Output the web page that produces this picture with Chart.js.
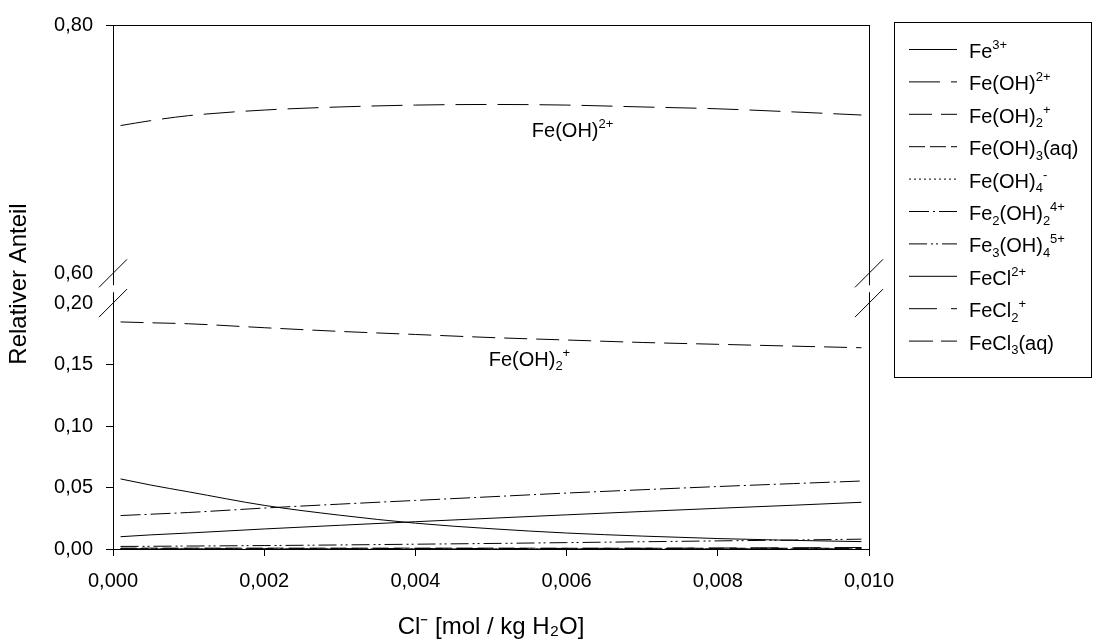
<!DOCTYPE html>
<html>
<head>
<meta charset="utf-8">
<script src="https://cdn.jsdelivr.net/npm/chart.js@4.4.1/dist/chart.umd.min.js"></script>
<style>
  html, body { margin: 0; padding: 0; background: #fff; }
  #wrap { width: 1096px; height: 644px; position: relative; }
</style>
</head>
<body>
<div id="wrap"><canvas id="speciation"></canvas></div>
<script>
// Cl- concentration (mol/kg H2O)
const chloride = [0.0001, 0.0005, 0.001, 0.002, 0.003, 0.004, 0.005, 0.006, 0.007, 0.008, 0.009, 0.0099];

// relative share of each species
const fe3      = [0.0570, 0.0520, 0.0465, 0.0355, 0.0275, 0.0210, 0.0165, 0.0130, 0.0105, 0.0085, 0.0070, 0.0060];
const feOH     = [0.7190, 0.7230, 0.7270, 0.7315, 0.7340, 0.7355, 0.7360, 0.7355, 0.7340, 0.7325, 0.7300, 0.7275];
const feOH2    = [0.1847, 0.1840, 0.1832, 0.1800, 0.1770, 0.1745, 0.1720, 0.1700, 0.1680, 0.1665, 0.1650, 0.1637];
const feOH3    = [0.0007, 0.0007, 0.0007, 0.0007, 0.0007, 0.0007, 0.0007, 0.0006, 0.0006, 0.0006, 0.0006, 0.0006];
const feOH4    = [0.0001, 0.0001, 0.0001, 0.0001, 0.0001, 0.0001, 0.0001, 0.0001, 0.0001, 0.0001, 0.0001, 0.0001];
const fe2OH2   = [0.0272, 0.0283, 0.0297, 0.0333, 0.0365, 0.0395, 0.0425, 0.0455, 0.0482, 0.0508, 0.0532, 0.0553];
const fe3OH4   = [0.0021, 0.0022, 0.0024, 0.0028, 0.0033, 0.0039, 0.0045, 0.0052, 0.0059, 0.0066, 0.0073, 0.0080];
const feCl     = [0.0100, 0.0115, 0.0130, 0.0163, 0.0193, 0.0222, 0.0250, 0.0278, 0.0305, 0.0331, 0.0356, 0.0380];
const feCl2    = [0.0000, 0.0000, 0.0001, 0.0001, 0.0002, 0.0003, 0.0004, 0.0005, 0.0006, 0.0008, 0.0010, 0.0012];
const feCl3    = [0.0000, 0.0000, 0.0000, 0.0000, 0.0000, 0.0000, 0.0000, 0.0000, 0.0000, 0.0000, 0.0001, 0.0001];

const species = ['Fe^{3+}', 'Fe(OH)^{2+}', 'Fe(OH)_{2}^{+}', 'Fe(OH)_{3}(aq)', 'Fe(OH)_{4}^{-}',
                 'Fe_{2}(OH)_{2}^{4+}', 'Fe_{3}(OH)_{4}^{5+}', 'FeCl^{2+}', 'FeCl_{2}^{+}', 'FeCl_{3}(aq)'];
const shares = [fe3, feOH, feOH2, feOH3, feOH4, fe2OH2, fe3OH4, feCl, feCl2, feCl3];
const dashes = [[], [31, 11], [23, 9], [16, 5], [2, 3], [20, 4, 2, 4], [18, 4, 2, 3, 2, 4], [], [28, 14], [24, 8]];

const xTicks = [0, 0.002, 0.004, 0.006, 0.008, 0.010];
const yTicksLow = [0, 0.05, 0.10, 0.15, 0.20];
const yTicksHigh = [0.60, 0.80];

const FONT = "'Liberation Sans', Arial, sans-serif";
Chart.defaults.font.family = FONT;
Chart.defaults.color = '#000';

const SUP = {'0':'⁰','1':'¹','2':'²','3':'³','4':'⁴','5':'⁵','+':'⁺','-':'⁻'};
const SUB = {'0':'₀','1':'₁','2':'₂','3':'₃','4':'₄','5':'₅'};
function plain(s) {
  return s.replace(/\^\{([^}]*)\}/g, (m, t) => [...t].map(c => SUP[c] || c).join(''))
          .replace(/_\{([^}]*)\}/g, (m, t) => [...t].map(c => SUB[c] || c).join(''));
}
function parseRich(s) {
  const parts = [];
  const re = /([_^])\{([^}]*)\}|([^_^]+)/g;
  let m;
  while ((m = re.exec(s))) {
    if (m[3]) parts.push({t: m[3], k: 0});
    else parts.push({t: m[2], k: m[1] === '^' ? 1 : -1});
  }
  return parts;
}
// draws text with real sub/superscripts, y is the baseline
function drawRich(ctx, s, x, y, size) {
  const small = Math.round(size * 0.65);
  ctx.textBaseline = 'alphabetic';
  ctx.textAlign = 'left';
  for (const p of parseRich(s)) {
    ctx.font = (p.k ? small : size) + 'px ' + FONT;
    const dy = p.k === 1 ? -size * 0.45 : p.k === -1 ? size * 0.23 : 0;
    ctx.fillText(p.t, x, y + dy);
    x += ctx.measureText(p.t).width;
  }
}

const breakPlugin = {
  id: 'breakFrame',
  afterDraw(chart) {
    const {ctx, chartArea: a, scales} = chart;
    const lo = scales.yLow, hi = scales.yHigh;
    const seam = hi.bottom;
    ctx.save();
    ctx.strokeStyle = '#000';
    ctx.fillStyle = '#000';
    ctx.lineWidth = 1;
    ctx.beginPath();
    ctx.moveTo(a.left, a.top + 0.5); ctx.lineTo(a.right, a.top + 0.5);
    ctx.moveTo(a.right + 0.5, a.top); ctx.lineTo(a.right + 0.5, a.bottom);
    ctx.stroke();
    // gap in both axes plus the // marks
    ctx.fillStyle = '#fff';
    [a.left, a.right].forEach(x => ctx.fillRect(x - 2, seam - 3.5, 5, 7));
    ctx.beginPath();
    [a.left, a.right].forEach(x => {
      [hi.getPixelForValue(0.6), lo.getPixelForValue(0.2)].forEach(y => {
        ctx.moveTo(x - 14, y + 14); ctx.lineTo(x + 14, y - 14);
      });
    });
    ctx.stroke();

    // curve labels
    ctx.fillStyle = '#000';
    drawRich(ctx, species[1], scales.x.getPixelForValue(0.00554), hi.getPixelForValue(0.710), 20);
    drawRich(ctx, species[2], scales.x.getPixelForValue(0.00497), lo.getPixelForValue(0.1492), 20);

    // y title
    ctx.save();
    ctx.translate(19, (a.top + a.bottom) / 2 - 3);
    ctx.rotate(-Math.PI / 2);
    ctx.font = '24px ' + FONT;
    ctx.textAlign = 'center';
    ctx.textBaseline = 'middle';
    ctx.fillText('Relativer Anteil', 0, 0);
    ctx.restore();

    // legend
    const box = {left: 894, top: 22, right: 1091, bottom: 377};
    ctx.strokeRect(box.left + 0.5, box.top + 0.5, box.right - box.left, box.bottom - box.top);
    species.forEach((name, i) => {
      const base = 58 + 32.4 * i;
      ctx.beginPath();
      ctx.setLineDash(dashes[i]);
      ctx.moveTo(909, base - 8.5); ctx.lineTo(957, base - 8.5);
      ctx.stroke();
      ctx.setLineDash([]);
      drawRich(ctx, name, 969, base, 20);
    });
    ctx.restore();
  }
};

const yCommon = {
  type: 'linear',
  position: 'left',
  stack: 'y',
  afterFit: s => { s.width = 113; },
  border: { display: true, color: '#000', width: 1 },
  grid: {
    drawOnChartArea: false, drawTicks: true, tickLength: 7, tickWidth: 1,
    tickColor: c => (c.tick && (c.tick.value === 0.6 || c.tick.value === 0.2)) ? 'rgba(0,0,0,0)' : '#000'
  },
  ticks: { color: '#000', padding: 13, font: { size: 20 }, callback: v => v.toFixed(2).replace('.', ',') }
};

new Chart(document.getElementById('speciation'), {
  type: 'line',
  data: {
    datasets: species.map((name, i) => ({
      label: plain(name),
      data: chloride.map((c, j) => ({x: c, y: shares[i][j]})),
      yAxisID: i === 1 ? 'yHigh' : 'yLow',
      borderColor: '#000',
      borderWidth: 1,
      borderDash: dashes[i],
      pointRadius: 0,
      fill: false,
      cubicInterpolationMode: 'monotone'
    }))
  },
  options: {
    responsive: true,
    maintainAspectRatio: false,
    animation: false,
    layout: { padding: { left: 0, top: 20.5, right: 227, bottom: 0 } },
    plugins: { legend: { display: false }, tooltip: { enabled: false } },
    scales: {
      x: {
        type: 'linear',
        min: 0,
        max: 0.010,
        afterBuildTicks: s => { s.ticks = xTicks.map(v => ({value: v})); },
        afterFit: s => { s.height = 95; },
        border: { display: true, color: '#000', width: 1 },
        grid: { drawOnChartArea: false, drawTicks: true, tickLength: 7, tickColor: '#000', tickWidth: 1 },
        ticks: { color: '#000', padding: 13, font: { size: 20 }, maxRotation: 0, autoSkip: false,
                 callback: v => v.toFixed(3).replace('.', ',') },
        title: { display: true, text: 'Cl⁻ [mol / kg H₂O]', color: '#000', font: { size: 24 }, padding: { top: 0, bottom: 2 } }
      },
      yLow: Object.assign({}, yCommon, {
        min: 0, max: 0.2117, stackWeight: 262.5,
        afterBuildTicks: s => { s.ticks = yTicksLow.map(v => ({value: v})); }
      }),
      yHigh: Object.assign({}, yCommon, {
        min: 0.5876, max: 0.80, stackWeight: 266,
        afterBuildTicks: s => { s.ticks = yTicksHigh.map(v => ({value: v})); }
      })
    }
  },
  plugins: [breakPlugin]
});
</script>
</body>
</html>
